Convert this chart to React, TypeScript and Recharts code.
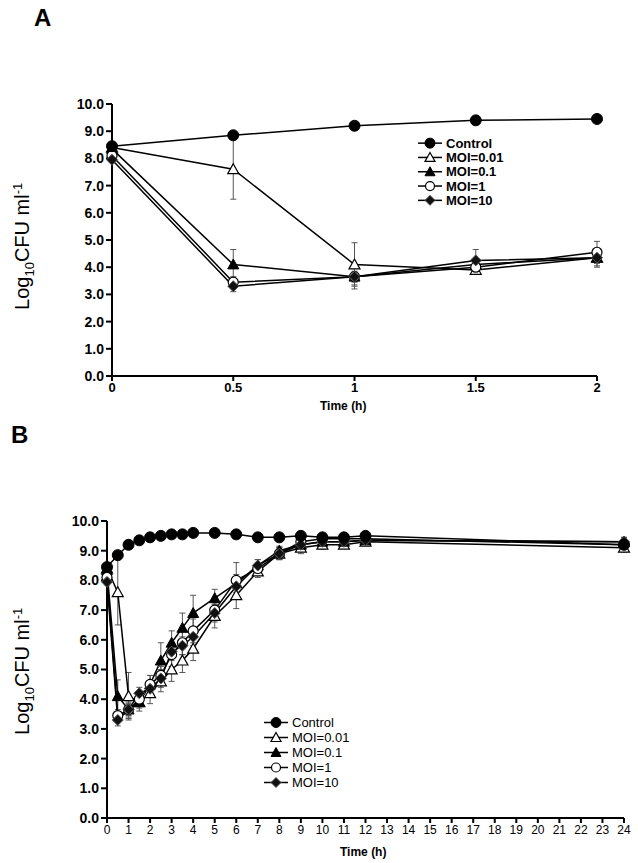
import React from 'react'
import { LineChart, Line, XAxis, YAxis, ErrorBar } from 'recharts'

const timesA = [0, 0.5, 1, 1.5, 2]
const controlA = [8.45, 8.85, 9.2, 9.4, 9.45]
const moi001A = [8.4, 7.6, 4.1, 3.9, 4.35]
const moi01A = [8.35, 4.1, 3.65, 4.1, 4.35]
const moi1A = [8.1, 3.45, 3.65, 4.0, 4.55]
const moi10A = [7.95, 3.3, 3.65, 4.25, 4.35]
const moi001ErrA = [0.1, 1.1, 0.8, 0.15, 0.3]
const moi01ErrA = [0.1, 0.55, 0.2, 0.15, 0.35]
const moi1ErrA = [0.1, 0.2, 0.45, 0.15, 0.4]
const moi10ErrA = [0.1, 0.2, 0.3, 0.4, 0.2]

const timesB = [0, 0.5, 1, 1.5, 2, 2.5, 3, 3.5, 4, 5, 6, 7, 8, 9, 10, 11, 12, 24]
const controlB = [8.45, 8.85, 9.2, 9.35, 9.45, 9.5, 9.55, 9.55, 9.6, 9.6, 9.55, 9.45, 9.45, 9.5, 9.45, 9.45, 9.5, 9.2]
const moi001B = [8.4, 7.6, 4.1, 3.9, 4.2, 4.6, 5.0, 5.3, 5.7, 6.8, 7.5, 8.3, 8.9, 9.1, 9.2, 9.2, 9.3, 9.1]
const moi01B = [8.35, 4.1, 3.65, 3.9, 4.5, 5.3, 5.9, 6.4, 6.9, 7.4, 7.9, 8.5, 9.0, 9.2, 9.3, 9.3, 9.35, 9.3]
const moi1B = [8.1, 3.45, 3.65, 4.0, 4.5, 4.8, 5.5, 5.9, 6.3, 7.0, 8.0, 8.4, 8.9, 9.3, 9.4, 9.4, 9.4, 9.2]
const moi10B = [7.95, 3.3, 3.65, 4.2, 4.35, 4.7, 5.6, 5.8, 6.1, 6.9, 7.8, 8.5, 8.9, 9.2, 9.3, 9.3, 9.35, 9.3]
const moi001ErrB = [0.1, 1.1, 0.8, 0.3, 0.35, 0.35, 0.4, 0.4, 0.4, 0.4, 0.45, 0.2, 0.2, 0.2, 0.15, 0.1, 0.1, 0.15]
const moi01ErrB = [0.1, 0.55, 0.2, 0.2, 0.3, 0.6, 0.4, 0.5, 0.6, 0.3, 0.3, 0.2, 0.15, 0.15, 0.1, 0.1, 0.1, 0.15]
const moi1ErrB = [0.1, 0.2, 0.3, 0.2, 0.3, 0.3, 0.4, 0.4, 0.4, 0.3, 0.6, 0.2, 0.2, 0.15, 0.1, 0.1, 0.1, 0.2]
const moi10ErrB = [0.1, 0.2, 0.25, 0.2, 0.2, 0.3, 0.3, 0.3, 0.3, 0.3, 0.3, 0.2, 0.2, 0.15, 0.1, 0.1, 0.1, 0.15]

const yTicks = [0, 1, 2, 3, 4, 5, 6, 7, 8, 9, 10]
const xTicksA = [0, 0.5, 1, 1.5, 2]
const xTicksB = Array.from({ length: 25 }, (_, i) => i)

const seriesNames = ['Control', 'MOI=0.01', 'MOI=0.1', 'MOI=1', 'MOI=10']
const shapes = ['circle', 'triangleOpen', 'triangle', 'circleOpen', 'diamond']

const font = 'Arial, "Liberation Sans", sans-serif'

function Marker({ shape, cx, cy, s }: { shape: string; cx: number; cy: number; s: number }) {
  const r = s / 2
  if (shape === 'circle') return <circle cx={cx} cy={cy} r={r} fill="#000" stroke="#000" />
  if (shape === 'circleOpen') return <circle cx={cx} cy={cy} r={r - 0.5} fill="#fff" stroke="#000" strokeWidth={1.2} />
  if (shape === 'diamond')
    return <polygon points={`${cx},${cy - r} ${cx + r},${cy} ${cx},${cy + r} ${cx - r},${cy}`} fill="#111" stroke="#555" strokeWidth={1} />
  const pts = `${cx},${cy - r} ${cx + r},${cy + r * 0.8} ${cx - r},${cy + r * 0.8}`
  if (shape === 'triangle') return <polygon points={pts} fill="#000" stroke="#000" />
  return <polygon points={pts} fill="#fff" stroke="#000" strokeWidth={1.2} />
}

const makeDot = (shape: string, s: number) => (props: any) => {
  const { cx, cy, index } = props
  if (cx == null || cy == null) return <g key={index} />
  return <Marker key={index} shape={shape} cx={cx} cy={cy} s={s} />
}

function buildRows(times: number[], series: number[][], errs: number[][]) {
  return times.map((t, i) => {
    const row: Record<string, number> = { t }
    series.forEach((s, k) => { row['s' + k] = s[i] })
    errs.forEach((e, k) => { row['e' + (k + 1)] = e[i] })
    return row
  })
}

const dataA = buildRows(timesA, [controlA, moi001A, moi01A, moi1A, moi10A], [moi001ErrA, moi01ErrA, moi1ErrA, moi10ErrA])
const dataB = buildRows(timesB, [controlB, moi001B, moi01B, moi1B, moi10B], [moi001ErrB, moi01ErrB, moi1ErrB, moi10ErrB])

function YLabel({ x, y }: { x: number; y: number }) {
  return (
    <div style={{
      position: 'absolute', left: x - 100, top: y - 12, width: 200, textAlign: 'center',
      transform: 'rotate(-90deg)', fontFamily: font, fontSize: 20, lineHeight: '24px', whiteSpace: 'nowrap',
    }}>
      Log<sub style={{ fontSize: 13 }}>10</sub>CFU ml<sup style={{ fontSize: 13 }}>-1</sup>
    </div>
  )
}

function LegendBox({ x, y, bold, step, s }: { x: number; y: number; bold: boolean; step: number; s: number }) {
  return (
    <svg style={{ position: 'absolute', left: x, top: y }} width={110} height={step * 5 + 4}>
      {seriesNames.map((n, i) => {
        const cy = i * step + step / 2 + 1
        return (
          <g key={n}>
            <line x1={2} x2={26} y1={cy} y2={cy} stroke="#000" strokeWidth={1.5} />
            <Marker shape={shapes[i]} cx={14} cy={cy} s={s} />
            <text x={30} y={cy + 4.5} fontFamily={font} fontSize={13} fontWeight={bold ? 'bold' : 'normal'}>{n}</text>
          </g>
        )
      })}
    </svg>
  )
}

function Panel({ data, xTicks, domain, width, height, margin, s, tickBoldX, xFont }: any) {
  return (
    <LineChart width={width} height={height} data={data} margin={margin}>
      <XAxis
        type="number" dataKey="t" domain={domain} ticks={xTicks} interval={0}
        axisLine={{ stroke: '#000', strokeWidth: 2 }} tickLine={{ stroke: '#000', strokeWidth: 2 }} tickSize={5}
        tick={{ fill: '#000', fontFamily: font, fontSize: xFont, fontWeight: tickBoldX ? 'bold' : 'normal' }}
        height={30} allowDecimals
      />
      <YAxis
        type="number" domain={[0, 10]} ticks={yTicks} interval={0} width={50}
        tickFormatter={(v: number) => v.toFixed(1)}
        axisLine={{ stroke: '#000', strokeWidth: 2 }} tickLine={{ stroke: '#000', strokeWidth: 2 }} tickSize={6}
        tick={{ fill: '#000', fontFamily: font, fontSize: 14, fontWeight: 'bold' }}
      />
      {[1, 2, 3, 4].map(k => (
        <Line key={k} dataKey={'s' + k} stroke="#000" strokeWidth={1.5} dot={makeDot(shapes[k], s)} isAnimationActive={false}>
          <ErrorBar dataKey={'e' + k} direction="y" width={3} stroke="#555" strokeWidth={1} />
        </Line>
      ))}
      <Line dataKey="s0" stroke="#000" strokeWidth={1.5} dot={makeDot('circle', s)} isAnimationActive={false} />
    </LineChart>
  )
}

export default function App() {
  return (
    <div style={{ position: 'absolute', left: 0, top: 0, width: 638, height: 863, background: '#fff', fontFamily: font }}>
      <div style={{ position: 'absolute', left: 34, top: 4, fontSize: 24, fontWeight: 'bold' }}>A</div>
      <div style={{ position: 'absolute', left: 11, top: 421, fontSize: 24, fontWeight: 'bold' }}>B</div>

      <div style={{ position: 'absolute', left: 0, top: 0 }}>
        <Panel data={dataA} xTicks={xTicksA} domain={[0, 2]} width={638} height={420}
          margin={{ top: 104, right: 41, left: 62, bottom: 14 }} s={11} tickBoldX xFont={13} />
      </div>
      <YLabel x={24} y={240} />
      <div style={{ position: 'absolute', left: 320, top: 399, fontSize: 12, fontWeight: 'bold' }}>Time (h)</div>
      <LegendBox x={416} y={135} bold step={14.3} s={10} />

      <div style={{ position: 'absolute', left: 0, top: 417 }}>
        <Panel data={dataB} xTicks={xTicksB} domain={[0, 24]} width={638} height={446}
          margin={{ top: 104, right: 14, left: 57, bottom: 15 }} s={11} tickBoldX={false} xFont={12} />
      </div>
      <YLabel x={24} y={665} />
      <div style={{ position: 'absolute', left: 340, top: 845, fontSize: 12, fontWeight: 'bold' }}>Time (h)</div>
      <LegendBox x={262} y={714} bold={false} step={15} s={10} />
    </div>
  )
}
